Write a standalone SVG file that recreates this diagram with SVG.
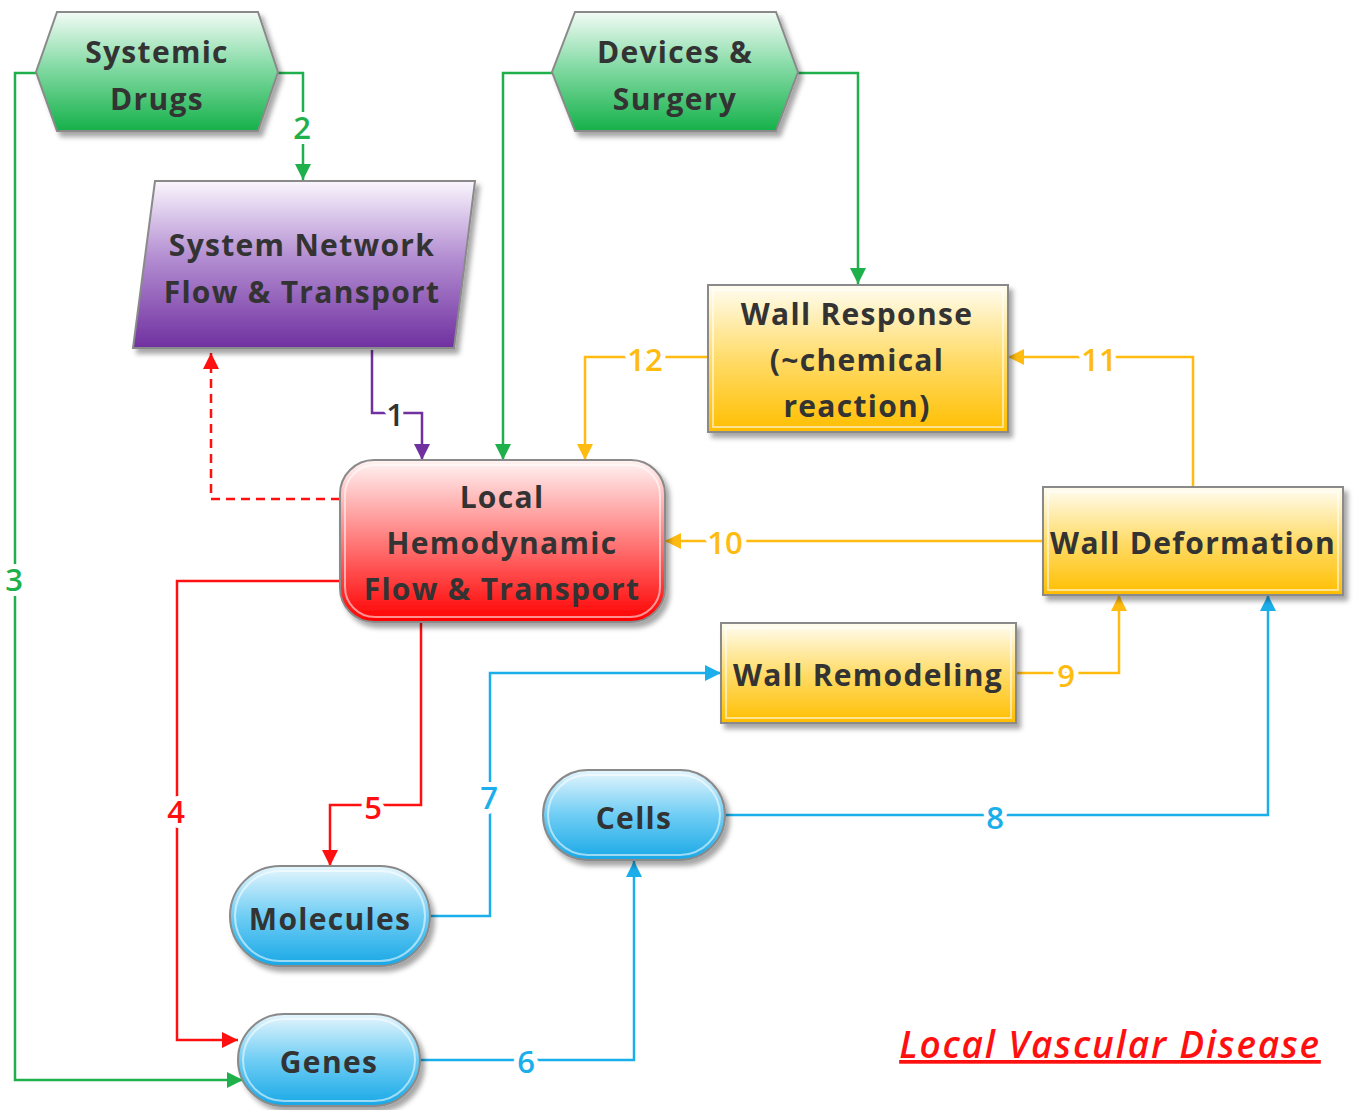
<svg xmlns="http://www.w3.org/2000/svg" width="1357" height="1110" viewBox="0 0 1357 1110">
<defs>
<linearGradient id="gGreen" x1="0" y1="0" x2="0" y2="1"><stop offset="0" stop-color="#f2fbf5"/><stop offset="0.45" stop-color="#86dba6"/><stop offset="1" stop-color="#15b14a"/></linearGradient>
<linearGradient id="gPurple" x1="0" y1="0" x2="0" y2="1"><stop offset="0" stop-color="#faf6fd"/><stop offset="0.45" stop-color="#b48fd2"/><stop offset="1" stop-color="#7030a0"/></linearGradient>
<linearGradient id="gYellow" x1="0" y1="0" x2="0" y2="1"><stop offset="0" stop-color="#fffdf2"/><stop offset="0.5" stop-color="#ffdc6a"/><stop offset="1" stop-color="#ffbe00"/></linearGradient>
<linearGradient id="gRed" x1="0" y1="0" x2="0" y2="1"><stop offset="0" stop-color="#fff4f4"/><stop offset="0.5" stop-color="#ff7a7a"/><stop offset="1" stop-color="#ff0000"/></linearGradient>
<linearGradient id="gBlue" x1="0" y1="0" x2="0" y2="1"><stop offset="0" stop-color="#e6f6fd"/><stop offset="0.5" stop-color="#6fcdf4"/><stop offset="1" stop-color="#18a8e6"/></linearGradient>
<filter id="sh" x="-10%" y="-10%" width="125%" height="130%"><feDropShadow dx="4" dy="5" stdDeviation="2.5" flood-color="#000" flood-opacity="0.35"/></filter>
<marker id="aGreen" markerUnits="userSpaceOnUse" markerWidth="16" markerHeight="16" refX="16" refY="8" orient="auto"><path d="M0,0 L16,8 L0,16 Z" fill="#1fb04c"/></marker>
<marker id="aPurple" markerUnits="userSpaceOnUse" markerWidth="16" markerHeight="16" refX="16" refY="8" orient="auto"><path d="M0,0 L16,8 L0,16 Z" fill="#7030a0"/></marker>
<marker id="aRed" markerUnits="userSpaceOnUse" markerWidth="16" markerHeight="16" refX="16" refY="8" orient="auto"><path d="M0,0 L16,8 L0,16 Z" fill="#ff1010"/></marker>
<marker id="aOrange" markerUnits="userSpaceOnUse" markerWidth="16" markerHeight="16" refX="16" refY="8" orient="auto"><path d="M0,0 L16,8 L0,16 Z" fill="#ffbb10"/></marker>
<marker id="aBlue" markerUnits="userSpaceOnUse" markerWidth="16" markerHeight="16" refX="16" refY="8" orient="auto"><path d="M0,0 L16,8 L0,16 Z" fill="#1aaeea"/></marker>
</defs>
<style>
.node{stroke:#8a8a8a;stroke-width:2;filter:url(#sh)}
.inner{fill:none;stroke:#ffffff;stroke-opacity:0.55;stroke-width:2}
.t{font-family:"Open Sans","Liberation Sans",sans-serif;font-weight:700;font-size:30px;letter-spacing:1.3px;fill:#333333;text-anchor:middle}
.c{fill:none;stroke-width:2.5}
.green{stroke:#1fb04c}.purple{stroke:#7030a0}.red{stroke:#ff1010}.orange{stroke:#ffbb10}.blue{stroke:#1aaeea}
.lbl{font-family:"Open Sans","Liberation Sans",sans-serif;font-size:31px;font-weight:600;text-anchor:middle;stroke:#ffffff;stroke-width:10;paint-order:stroke;stroke-linejoin:round}
</style>
<rect width="1357" height="1110" fill="#ffffff"/>

<g id="connectors">
<path class="c green" d="M278,73 H303 V180" marker-end="url(#aGreen)"/>
<path class="c green" d="M36,73 H15 V1080 H243" marker-end="url(#aGreen)"/>
<path class="c green" d="M552,73 H503 V460" marker-end="url(#aGreen)"/>
<path class="c green" d="M798,73 H858 V284" marker-end="url(#aGreen)"/>
<path class="c purple" d="M372,350 V413 H422 V460" marker-end="url(#aPurple)"/>
<path class="c red" d="M340,499 H211 V353" stroke-dasharray="9,6" marker-end="url(#aRed)"/>
<path class="c red" d="M340,581 H177 V1040 H238" marker-end="url(#aRed)"/>
<path class="c red" d="M421,622 V805 H330 V866" marker-end="url(#aRed)"/>
<path class="c orange" d="M708,357 H585 V460" marker-end="url(#aOrange)"/>
<path class="c orange" d="M1193,487 V357 H1008" marker-end="url(#aOrange)"/>
<path class="c orange" d="M1043,541 H665" marker-end="url(#aOrange)"/>
<path class="c orange" d="M1016,673 H1119 V595" marker-end="url(#aOrange)"/>
<path class="c blue" d="M430,916 H490 V673 H721" marker-end="url(#aBlue)"/>
<path class="c blue" d="M725,815 H1268 V595" marker-end="url(#aBlue)"/>
<path class="c blue" d="M420,1060 H634 V861" marker-end="url(#aBlue)"/>
<text class="lbl" x="302" y="139" fill="#1fb04c">2</text>
<text class="lbl" x="14" y="591" fill="#1fb04c">3</text>
<text class="lbl" x="395" y="426" fill="#333333" font-weight="700">1</text>
<text class="lbl" x="645" y="371" fill="#ffbb10">12</text>
<text class="lbl" x="1099" y="371" fill="#ffbb10">11</text>
<text class="lbl" x="725" y="554" fill="#ffbb10">10</text>
<text class="lbl" x="1066" y="687" fill="#ffbb10">9</text>
<text class="lbl" x="176" y="823" fill="#ff1010">4</text>
<text class="lbl" x="373" y="819" fill="#ff1010">5</text>
<text class="lbl" x="489" y="809" fill="#1aaeea">7</text>
<text class="lbl" x="995" y="829" fill="#1aaeea">8</text>
<text class="lbl" x="526" y="1073" fill="#1aaeea">6</text>
</g>

<g id="systemic-drugs">
<path class="node" fill="url(#gGreen)" d="M57,12 H258 L278,72 L258,131 H57 L36,72 Z"/>
<text class="t" x="157" y="63">Systemic</text>
<text class="t" x="157" y="110">Drugs</text>
</g>

<g id="devices-surgery">
<path class="node" fill="url(#gGreen)" d="M575,12 H776 L798,72 L776,131 H575 L552,72 Z"/>
<text class="t" x="675" y="63">Devices &amp;</text>
<text class="t" x="675" y="110">Surgery</text>
</g>

<g id="system-network">
<path class="node" fill="url(#gPurple)" d="M155,181 H475 L454,348 H133 Z"/>
<text class="t" x="302" y="256">System Network</text>
<text class="t" x="302" y="303">Flow &amp; Transport</text>
</g>

<g id="wall-response">
<rect class="node" fill="url(#gYellow)" x="708" y="285" width="300" height="147"/>
<rect class="inner" x="713" y="290" width="290" height="137"/>
<text class="t" x="857" y="325">Wall Response</text>
<text class="t" x="857" y="371">(~chemical</text>
<text class="t" x="857" y="417">reaction)</text>
</g>

<g id="local-hemodynamic">
<rect class="node" fill="url(#gRed)" x="340" y="460" width="325" height="162" rx="34"/>
<rect class="inner" x="345" y="465" width="315" height="152" rx="30"/>
<text class="t" x="502" y="508">Local</text>
<text class="t" x="502" y="554">Hemodynamic</text>
<text class="t" x="502" y="600">Flow &amp; Transport</text>
</g>

<g id="wall-deformation">
<rect class="node" fill="url(#gYellow)" x="1043" y="487" width="300" height="108"/>
<rect class="inner" x="1048" y="492" width="290" height="98"/>
<text class="t" x="1193" y="554">Wall Deformation</text>
</g>

<g id="wall-remodeling">
<rect class="node" fill="url(#gYellow)" x="721" y="623" width="295" height="100"/>
<rect class="inner" x="726" y="628" width="285" height="90"/>
<text class="t" x="868" y="686">Wall Remodeling</text>
</g>

<g id="cells">
<rect class="node" fill="url(#gBlue)" x="543" y="770" width="182" height="90" rx="45"/>
<rect class="inner" x="548" y="775" width="172" height="80" rx="40"/>
<text class="t" x="634" y="829">Cells</text>
</g>

<g id="molecules">
<rect class="node" fill="url(#gBlue)" x="230" y="866" width="200" height="100" rx="50"/>
<rect class="inner" x="235" y="871" width="190" height="90" rx="45"/>
<text class="t" x="330" y="930">Molecules</text>
</g>

<g id="genes">
<rect class="node" fill="url(#gBlue)" x="238" y="1014" width="182" height="92" rx="46"/>
<rect class="inner" x="243" y="1019" width="172" height="82" rx="41"/>
<text class="t" x="329" y="1073">Genes</text>
</g>

<g id="title">
<text x="1110" y="1058" font-family="'Open Sans','Liberation Sans',sans-serif" font-size="37" font-weight="600" font-style="italic" letter-spacing="1.8" fill="#ff1010" text-anchor="middle" text-decoration="underline">Local Vascular Disease</text>
</g>
</svg>
